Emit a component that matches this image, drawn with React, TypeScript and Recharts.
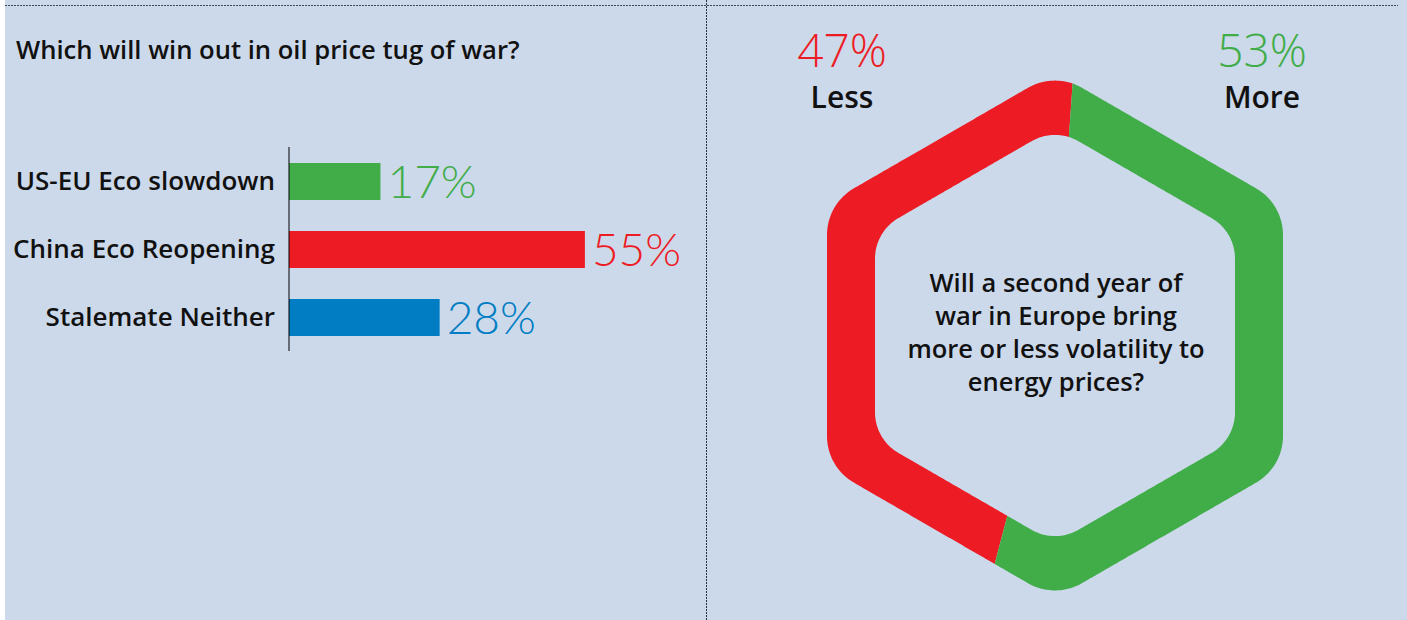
import React from 'react'
import { BarChart, Bar, XAxis, YAxis, Cell, PieChart, Pie } from 'recharts'

// left panel: oil price survey
const barCategories = ['US-EU Eco slowdown', 'China Eco Reopening', 'Stalemate Neither']
const barValues = [17, 55, 28]
const barColors = ['#41ad49', '#ed1c24', '#007dc3']

// right panel: volatility survey
const pieNames = ['Less', 'More']
const pieValues = [47, 53]
const pieColors = ['#ed1c24', '#41ad49']

const questionLines = [
  'Will a second year of',
  'war in Europe bring',
  'more or less volatility to',
  'energy prices?'
]

const FONT = '"Open Sans", Lato, sans-serif'
const NUM_FONT = 'Lato, "Open Sans", sans-serif'
const BG = '#ccd9eb'
const RAD = Math.PI / 180

// signed distance to a hexagon (flat top/bottom, apothem r along 2nd arg)
const sdHex = (px: number, py: number, r: number) => {
  const kx = -0.866025404
  const ky = 0.5
  const kz = 0.577350269
  px = Math.abs(px)
  py = Math.abs(py)
  const d = Math.min(kx * px + ky * py, 0)
  px -= 2 * d * kx
  py -= 2 * d * ky
  px -= Math.max(-kz * r, Math.min(kz * r, px))
  py -= r
  return Math.hypot(px, py) * Math.sign(py)
}

// distance from centre to a rounded, pointy-top hexagon along a polar angle
const hexRadius = (angle: number, apothem: number, round: number) => {
  const ux = Math.cos(-angle * RAD)
  const uy = Math.sin(-angle * RAD)
  let lo = 0
  let hi = apothem * 1.3
  for (let i = 0; i < 40; i++) {
    const mid = (lo + hi) / 2
    const d = sdHex(mid * uy, mid * ux, apothem - round) - round
    if (d > 0) hi = mid
    else lo = mid
  }
  return (lo + hi) / 2
}

const HexSector = (props: any) => {
  const { cx, cy, innerRadius, outerRadius, startAngle, endAngle, fill } = props
  const span = endAngle - startAngle
  const steps = Math.max(2, Math.ceil(Math.abs(span) / 0.5))
  const outer: string[] = []
  const inner: string[] = []
  for (let i = 0; i <= steps; i++) {
    const a = startAngle + (span * i) / steps
    const ro = hexRadius(a, outerRadius, 54)
    const ri = hexRadius(a, innerRadius, 47)
    outer.push(`${cx + ro * Math.cos(-a * RAD)},${cy + ro * Math.sin(-a * RAD)}`)
    inner.push(`${cx + ri * Math.cos(-a * RAD)},${cy + ri * Math.sin(-a * RAD)}`)
  }
  const d = `M${outer.join('L')}L${inner.reverse().join('L')}Z`
  return <path d={d} fill={fill} stroke="none" />
}

const renderBarLabel = (p: any) => {
  const vb = p.viewBox || p
  const { x, y, width, height } = vb
  const i = p.index ?? 0
  return (
    <text
      x={x + width + 7}
      y={y + height / 2 + 16}
      fill={barColors[i]}
      fontSize={46}
      fontWeight={300}
      fontFamily={NUM_FONT}
    >
      {`${p.value}%`}
    </text>
  )
}

const renderPieLabel = (p: any) => {
  const { cx, cy, midAngle, index } = p
  const x = cx + (Math.cos(-midAngle * RAD) < 0 ? -213 : 207)
  return (
    <g>
      <text x={x} y={cy - 268.5} textAnchor="middle" fill={pieColors[index]} fontSize={46} fontWeight={300} fontFamily={FONT}>
        {`${pieValues[index]}%`}
      </text>
      <text x={x} y={cy - 227.5} textAnchor="middle" fill="#111" fontSize={30} fontWeight={600} fontFamily={FONT}>
        {pieNames[index]}
      </text>
    </g>
  )
}

export default function App() {
  const barData = barCategories.map((name, i) => ({ name, value: barValues[i] }))
  const pieData = pieNames.map((name, i) => ({ name, value: pieValues[i] }))

  return (
    <div style={{ position: 'absolute', left: 0, top: 0, width: 1407, height: 620, background: BG, overflow: 'hidden', fontFamily: FONT }}>
      <div style={{ position: 'absolute', left: 0, top: 0, width: 5, height: 620, background: '#fff' }} />

      <div style={{ position: 'absolute', left: 0, top: 0 }}>
        <BarChart
          width={850}
          height={620}
          layout="vertical"
          data={barData}
          margin={{ top: 147, right: 23, bottom: 269, left: 0 }}
        >
          <XAxis type="number" domain={[0, 100]} hide />
          <YAxis
            type="category"
            dataKey="name"
            width={289}
            axisLine={{ stroke: '#000', strokeWidth: 1 }}
            tickLine={false}
            tickSize={0}
            tickMargin={14}
            tick={{ fill: '#111', fontSize: 26, fontWeight: 600, fontFamily: FONT }}
          />
          <Bar dataKey="value" barSize={37} isAnimationActive={false} label={renderBarLabel}>
            {barData.map((d, i) => (
              <Cell key={d.name} fill={barColors[i]} />
            ))}
          </Bar>
        </BarChart>
      </div>

      <div style={{ position: 'absolute', left: 706, top: 0 }}>
        <PieChart width={701} height={620} margin={{ top: 0, right: 0, bottom: 0, left: 0 }}>
          <Pie
            data={pieData}
            dataKey="value"
            nameKey="name"
            cx={349}
            cy={335.5}
            innerRadius={180}
            outerRadius={228}
            startAngle={86}
            endAngle={446}
            stroke="none"
            isAnimationActive={false}
            shape={HexSector}
            activeShape={HexSector}
            inactiveShape={HexSector}
            label={renderPieLabel}
            labelLine={false}
          >
            {pieData.map((d, i) => (
              <Cell key={d.name} fill={pieColors[i]} />
            ))}
          </Pie>
        </PieChart>
      </div>

      <svg width={1407} height={620} style={{ position: 'absolute', left: 0, top: 0, pointerEvents: 'none' }}>
        <line x1={5} y1={5.5} x2={1398} y2={5.5} stroke="#3c4656" strokeWidth={1} strokeDasharray="2 1" />
        <line x1={706.5} y1={0} x2={706.5} y2={620} stroke="#2a323d" strokeWidth={1} strokeDasharray="2 1" />
        <text x={16} y={59} fill="#111" fontSize={25.6} fontWeight={600} fontFamily={FONT}>
          Which will win out in oil price tug of war?
        </text>
        {questionLines.map((t, i) => (
          <text key={t} x={1056} y={292 + i * 33} textAnchor="middle" fill="#111" fontSize={25.5} fontWeight={600} fontFamily={FONT}>
            {t}
          </text>
        ))}
      </svg>
    </div>
  )
}
